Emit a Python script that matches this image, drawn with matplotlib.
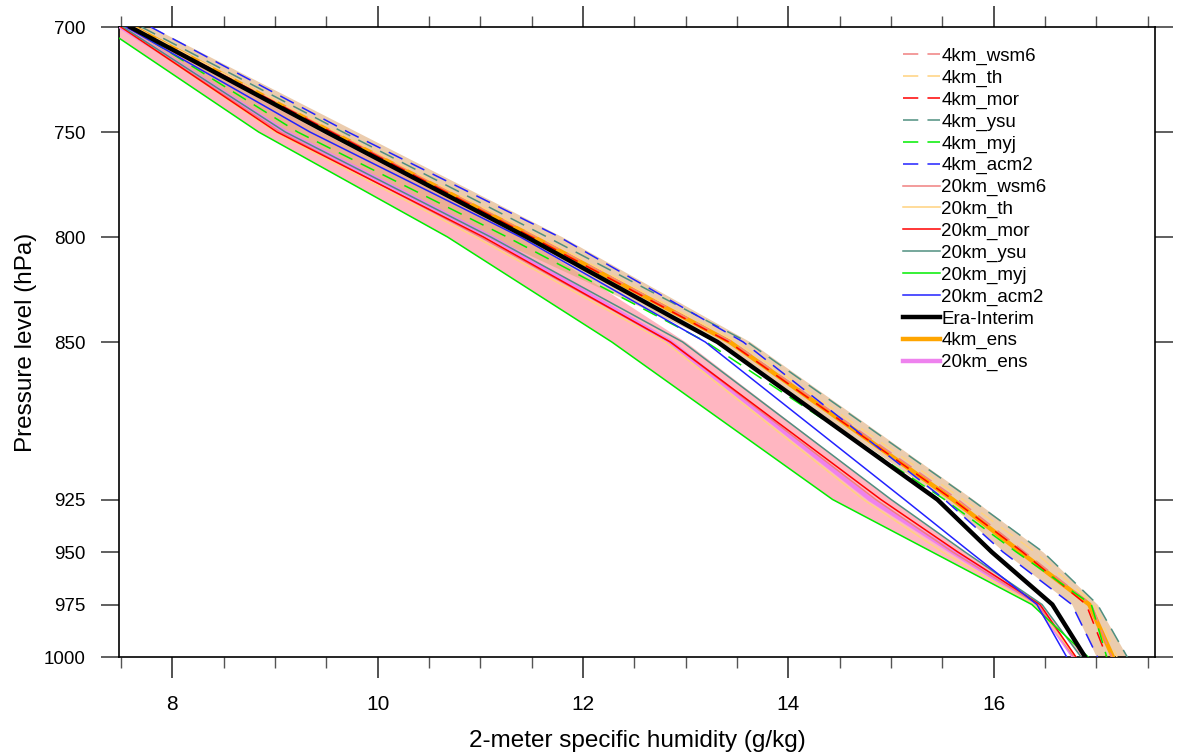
import matplotlib
matplotlib.use("Agg")
import matplotlib.pyplot as plt
from matplotlib.ticker import MultipleLocator, FixedLocator

plt.rcParams['font.family'] = ['Liberation Sans', 'DejaVu Sans']

levels = [700, 750, 800, 850, 925, 950, 975, 1000]

# 4 km members
km4_wsm6 = [7.62, 9.58, 11.55, 13.45, 15.65, 16.30, 16.95, 17.15]
km4_th   = [7.63, 9.60, 11.58, 13.50, 15.70, 16.40, 16.98, 17.20]
km4_mor  = [7.60, 9.55, 11.50, 13.42, 15.60, 16.28, 16.90, 17.10]
km4_ysu  = [7.70, 9.66, 11.65, 13.60, 15.78, 16.48, 17.01, 17.30]
km4_myj  = [7.58, 9.22, 11.26, 13.20, 15.52, 16.22, 16.95, 17.10]
km4_acm2 = [7.79, 9.71, 11.77, 13.56, 15.52, 16.09, 16.76, 17.01]

# 20 km members
km20_wsm6 = [7.50, 9.05, 11.00, 12.85, 14.85, 15.60, 16.43, 16.78]
km20_th   = [7.50, 9.00, 10.95, 12.80, 14.73, 15.50, 16.40, 16.80]
km20_mor  = [7.50, 9.02, 11.03, 12.85, 14.90, 15.65, 16.45, 16.80]
km20_ysu  = [7.52, 9.10, 11.10, 12.97, 15.00, 15.72, 16.47, 16.85]
km20_myj  = [7.32, 8.84, 10.68, 12.28, 14.43, 15.40, 16.37, 16.92]
km20_acm2 = [7.55, 9.34, 11.39, 13.19, 15.13, 15.77, 16.42, 16.71]

era_interim = [7.59, 9.50, 11.45, 13.31, 15.45, 15.98, 16.57, 16.89]
km4_ens     = [7.62, 9.55, 11.52, 13.43, 15.60, 16.26, 16.93, 17.16]
km20_ens    = [7.50, 9.10, 11.10, 12.85, 14.80, 15.60, 16.42, 16.78]

# spread bands
km4_band_lo  = [7.55, 9.10, 11.10, 13.30, 15.52, 16.10, 16.76, 17.00]
km4_band_hi  = [7.80, 9.80, 11.80, 13.63, 15.80, 16.48, 17.01, 17.30]
km20_band_lo = km20_myj
km20_band_hi = [7.58, 9.45, 11.42, 13.00, 15.00, 15.72, 16.47, 16.85]

member_names = ['wsm6', 'th', 'mor', 'ysu', 'myj', 'acm2']
member_colors = ['#F08080', '#FFD27F', '#FF0000', '#4F8F80', '#00EE00', '#2222FF']
km4_members = [km4_wsm6, km4_th, km4_mor, km4_ysu, km4_myj, km4_acm2]
km20_members = [km20_wsm6, km20_th, km20_mor, km20_ysu, km20_myj, km20_acm2]

fig = plt.figure(figsize=(11.77, 7.55), dpi=100)
ax = fig.add_axes([0.1011, 0.1298, 0.8802, 0.8344])

ax.fill_betweenx(levels, km20_band_lo, km20_band_hi, color='#FFB6C1', lw=0, zorder=1)
ax.fill_betweenx(levels, km4_band_lo, km4_band_hi, color='#DEAA78', alpha=0.6, lw=0, zorder=2)

h_ens20, = ax.plot(km20_ens, levels, color='#EE82EE', lw=3.2, zorder=3, solid_joinstyle='miter')
h_ens4, = ax.plot(km4_ens, levels, color='#FFA500', lw=3.2, zorder=3, solid_joinstyle='miter')

h4 = []
for name, col, vals in zip(member_names, member_colors, km4_members):
    h, = ax.plot(vals, levels, color=col, lw=1.1, ls=(0, (10, 6)), zorder=4)
    h4.append(h)
h20 = []
for name, col, vals in zip(member_names, member_colors, km20_members):
    h, = ax.plot(vals, levels, color=col, lw=1.1, zorder=4)
    h20.append(h)
h_era, = ax.plot(era_interim, levels, color='black', lw=3.2, zorder=5, solid_joinstyle='miter')

handles = h4 + h20 + [h_era, h_ens4, h_ens20]
labels = ['4km_' + n for n in member_names] + ['20km_' + n for n in member_names] + \
         ['Era-Interim', '4km_ens', '20km_ens']
leg = fig.legend(handles, labels, loc='upper left', bbox_to_anchor=(0.767, 0.937),
                 frameon=False, fontsize=13.5, handlelength=2.0, handletextpad=0.05,
                 labelspacing=0.245, borderpad=0, borderaxespad=0)

ax.set_xlim(7.48, 17.57)
ax.set_ylim(1000, 700)

ax.xaxis.set_major_locator(MultipleLocator(2))
ax.xaxis.set_minor_locator(MultipleLocator(0.5))
ax.yaxis.set_major_locator(FixedLocator(levels))
ax.yaxis.set_minor_locator(FixedLocator([]))

ax.tick_params(axis='x', which='major', direction='out', length=15, width=1.2,
               top=True, bottom=True, labelsize=15, pad=12, color='#333333')
ax.tick_params(axis='x', which='minor', direction='out', length=8, width=1.0,
               top=True, bottom=True, color='#555555')
ax.tick_params(axis='y', which='major', direction='out', length=13, width=1.2,
               left=True, right=True, labelsize=13.5, pad=11, color='#444444')

for s in ax.spines.values():
    s.set_linewidth(1.2)

ax.set_xlabel('2-meter specific humidity (g/kg)', fontsize=17.5, labelpad=12)
ax.set_ylabel('Pressure level (hPa)', fontsize=17.5, labelpad=5)

fig.savefig('out.png', dpi=100)
